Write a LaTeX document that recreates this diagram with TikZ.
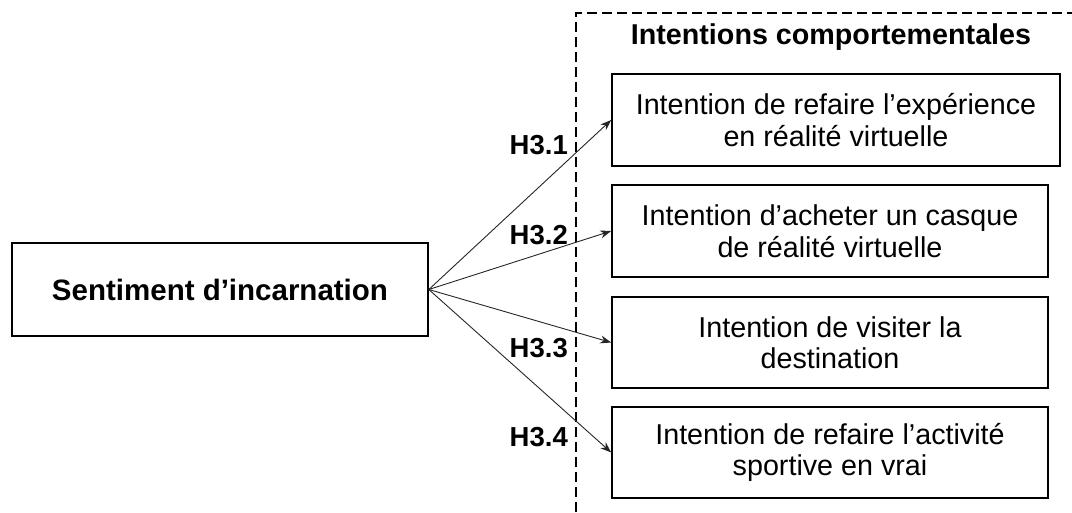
\documentclass[tikz,border=0pt]{standalone}
\usepackage{fontspec}
\setmainfont{Liberation Sans}
\usetikzlibrary{arrows.meta}
\begin{document}
\begin{tikzpicture}[x=1pt,y=-1pt,
  box/.style={draw,line width=1.6pt,inner sep=0pt,align=center,
    font=\fontsize{28.7}{31.5}\selectfont},
  src/.style={box,font=\fontsize{29.5}{32}\selectfont\bfseries},
  hlab/.style={anchor=east,inner sep=0pt,font=\fontsize{27.5}{30}\selectfont\bfseries},
  arr/.style={-{Stealth[length=11pt,width=8pt]},line width=0.9pt,black!85},
  frame/.style={line width=1.5pt,dash pattern=on 10pt off 5pt}]
\useasboundingbox (0,0) rectangle (1072,512);
\coordinate (fb) at (576,512);
\coordinate (ftl) at (576,13);
\coordinate (fr) at (1072,13);
\draw[frame] (fb) -- (ftl) -- (fr);
\node[font=\fontsize{28.7}{32}\selectfont\bfseries] (title) at (831,37) {Intentions comportementales};
\node[src,minimum width=416pt,minimum height=93pt] (s) at (220,289.5) {Sentiment d’incarnation};
\node[box,minimum width=448pt,minimum height=92pt] (b1) at (836,120) {Intention de refaire l’expérience\\en réalité virtuelle};
\node[box,minimum width=436pt,minimum height=92pt] (b2) at (830,231) {Intention d’acheter un casque\\de réalité virtuelle};
\node[box,minimum width=436pt,minimum height=91pt] (b3) at (830,342.5) {Intention de visiter la\\destination};
\node[box,minimum width=436pt,minimum height=91pt] (b4) at (830,452.5) {Intention de refaire l’activité\\sportive en vrai};
\draw[arr] (s.east) -- (b1.west);
\draw[arr] (s.east) -- (b2.west);
\draw[arr] (s.east) -- (b3.west);
\draw[arr] (s.east) -- (b4.west);
\node[hlab] (h1) at (568,145) {H3.1};
\node[hlab] (h2) at (568,235) {H3.2};
\node[hlab] (h3) at (568,348) {H3.3};
\node[hlab] (h4) at (568,437) {H3.4};
\end{tikzpicture}
\end{document}
